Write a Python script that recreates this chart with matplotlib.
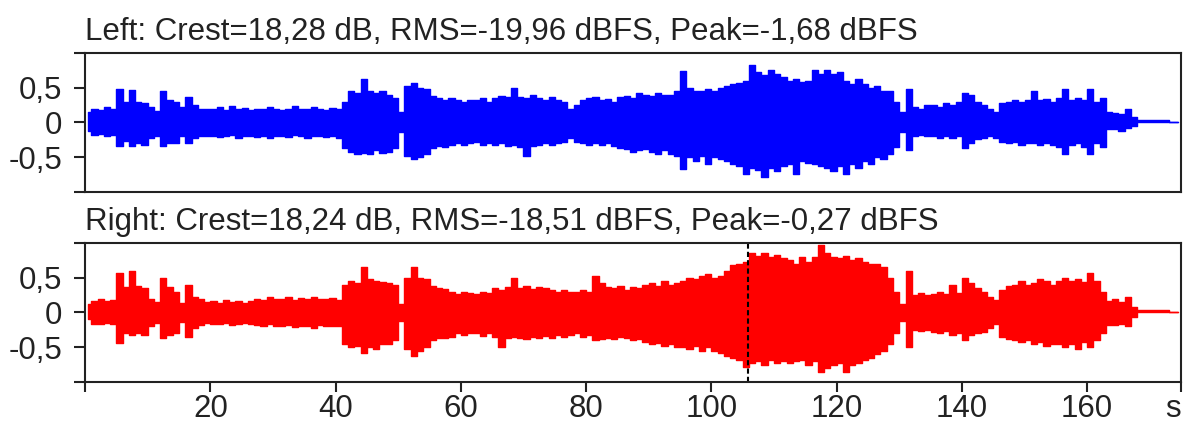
import numpy as np
import matplotlib
matplotlib.use("Agg")
import matplotlib.pyplot as plt

# ----------------------------------------------------------------------
# envelope of each channel at 1 s steps (0..174 s)
LEFT_TOP = [
    0.15, 0.2, 0.18, 0.22, 0.19, 0.48, 0.3, 0.47, 0.3, 0.28,
    0.22, 0.17, 0.45, 0.33, 0.3, 0.22, 0.36, 0.25, 0.2, 0.2,
    0.2, 0.22, 0.18, 0.24, 0.2, 0.21, 0.18, 0.2, 0.19, 0.22,
    0.2, 0.18, 0.2, 0.24, 0.19, 0.2, 0.22, 0.2, 0.18, 0.21,
    0.2, 0.3, 0.45, 0.42, 0.62, 0.45, 0.42, 0.45, 0.4, 0.35,
    0.15, 0.52, 0.57, 0.5, 0.48, 0.38, 0.35, 0.33, 0.35, 0.32,
    0.3, 0.33, 0.32, 0.35, 0.3, 0.35, 0.38, 0.36, 0.5, 0.36,
    0.35, 0.4, 0.35, 0.33, 0.36, 0.32, 0.3, 0.2, 0.25, 0.33,
    0.35, 0.36, 0.33, 0.34, 0.3, 0.36, 0.38, 0.35, 0.42, 0.4,
    0.38, 0.42, 0.4, 0.4, 0.45, 0.74, 0.5, 0.45, 0.46, 0.48,
    0.45, 0.5, 0.52, 0.55, 0.57, 0.6, 0.83, 0.72, 0.68, 0.75,
    0.7, 0.65, 0.6, 0.62, 0.58, 0.6, 0.76, 0.7, 0.76, 0.7,
    0.72, 0.6, 0.55, 0.62, 0.55, 0.5, 0.52, 0.45, 0.45, 0.3,
    0.15, 0.48, 0.22, 0.2, 0.25, 0.25, 0.22, 0.28, 0.25, 0.3,
    0.43, 0.4, 0.3, 0.25, 0.2, 0.15, 0.28, 0.3, 0.32, 0.3,
    0.33, 0.45, 0.32, 0.34, 0.3, 0.35, 0.48, 0.33, 0.35, 0.32,
    0.48, 0.3, 0.35, 0.15, 0.13, 0.12, 0.2, 0.08, 0.03, 0.03,
    0.03, 0.03, 0.03, 0.0, 0.0,
]
LEFT_BOT = [
    -0.12, -0.18, -0.17, -0.19, -0.18, -0.34, -0.27, -0.34, -0.3, -0.32,
    -0.22, -0.2, -0.34, -0.3, -0.3, -0.2, -0.3, -0.22, -0.2, -0.2,
    -0.19, -0.21, -0.2, -0.18, -0.22, -0.2, -0.19, -0.21, -0.2, -0.22,
    -0.19, -0.2, -0.21, -0.18, -0.2, -0.22, -0.2, -0.19, -0.21, -0.2,
    -0.22, -0.36, -0.42, -0.46, -0.44, -0.46, -0.4, -0.44, -0.42, -0.36,
    -0.14, -0.48, -0.52, -0.5, -0.45, -0.36, -0.34, -0.35, -0.32, -0.3,
    -0.32, -0.3, -0.28, -0.33, -0.3, -0.32, -0.3, -0.34, -0.32, -0.35,
    -0.48, -0.34, -0.32, -0.3, -0.33, -0.3, -0.28, -0.22, -0.28, -0.3,
    -0.33, -0.3, -0.32, -0.3, -0.34, -0.36, -0.38, -0.42, -0.4, -0.38,
    -0.42, -0.45, -0.4, -0.45, -0.48, -0.67, -0.5, -0.55, -0.48, -0.6,
    -0.5, -0.52, -0.55, -0.6, -0.62, -0.74, -0.65, -0.68, -0.79, -0.65,
    -0.7, -0.62, -0.6, -0.74, -0.55, -0.58, -0.6, -0.62, -0.65, -0.7,
    -0.62, -0.74, -0.6, -0.65, -0.55, -0.6, -0.5, -0.52, -0.45, -0.35,
    -0.13, -0.39, -0.2, -0.18, -0.2, -0.2, -0.22, -0.2, -0.22, -0.2,
    -0.37, -0.3, -0.24, -0.22, -0.2, -0.22, -0.28, -0.3, -0.28, -0.32,
    -0.3, -0.3, -0.32, -0.3, -0.33, -0.35, -0.46, -0.32, -0.3, -0.35,
    -0.46, -0.3, -0.35, -0.1, -0.1, -0.12, -0.08, -0.05, 0.01, 0.01,
    0.01, 0.01, 0.01, 0.0, 0.0,
]
RIGHT_TOP = [
    0.12, 0.17, 0.2, 0.16, 0.18, 0.57, 0.36, 0.59, 0.38, 0.35,
    0.2, 0.15, 0.5, 0.36, 0.3, 0.14, 0.4, 0.22, 0.2, 0.15,
    0.16, 0.14, 0.18, 0.15, 0.16, 0.14, 0.17, 0.2, 0.18, 0.22,
    0.19, 0.2, 0.23, 0.18, 0.21, 0.2, 0.22, 0.19, 0.2, 0.21,
    0.18, 0.4, 0.45, 0.42, 0.66, 0.48, 0.45, 0.44, 0.42, 0.4,
    0.12, 0.5, 0.66, 0.5, 0.48, 0.38, 0.35, 0.34, 0.3, 0.27,
    0.3, 0.28, 0.27, 0.3, 0.28, 0.35, 0.33, 0.36, 0.5, 0.35,
    0.38, 0.34, 0.36, 0.35, 0.33, 0.3, 0.32, 0.3, 0.3, 0.32,
    0.3, 0.52, 0.42, 0.36, 0.35, 0.38, 0.33, 0.36, 0.35, 0.4,
    0.42, 0.38, 0.45, 0.4, 0.42, 0.45, 0.5, 0.48, 0.52, 0.55,
    0.5, 0.53, 0.6, 0.68, 0.7, 0.72, 0.85, 0.82, 0.85, 0.8,
    0.83, 0.78, 0.75, 0.7, 0.8, 0.72, 0.8, 0.97, 0.85, 0.8,
    0.78, 0.82, 0.75, 0.78, 0.72, 0.7, 0.7, 0.65, 0.5, 0.3,
    0.12, 0.59, 0.25, 0.28, 0.25, 0.27, 0.3, 0.27, 0.4, 0.28,
    0.5, 0.42, 0.35, 0.3, 0.22, 0.18, 0.32, 0.38, 0.4, 0.45,
    0.4, 0.42, 0.48, 0.45, 0.4, 0.45, 0.5, 0.45, 0.48, 0.44,
    0.57, 0.45, 0.3, 0.17, 0.2, 0.15, 0.22, 0.08, 0.03, 0.03,
    0.03, 0.03, 0.03, 0.0, 0.0,
]
RIGHT_BOT = [
    -0.1, -0.16, -0.17, -0.15, -0.16, -0.44, -0.3, -0.32, -0.3, -0.33,
    -0.2, -0.15, -0.37, -0.33, -0.3, -0.14, -0.35, -0.22, -0.18, -0.15,
    -0.16, -0.17, -0.15, -0.18, -0.16, -0.15, -0.17, -0.18, -0.2, -0.17,
    -0.19, -0.2, -0.18, -0.21, -0.19, -0.2, -0.22, -0.18, -0.2, -0.19,
    -0.2, -0.45, -0.5, -0.48, -0.58, -0.5, -0.52, -0.46, -0.45, -0.4,
    -0.12, -0.52, -0.62, -0.55, -0.5, -0.4, -0.37, -0.36, -0.35, -0.3,
    -0.32, -0.3, -0.3, -0.34, -0.3, -0.35, -0.5, -0.36, -0.35, -0.36,
    -0.38, -0.35, -0.37, -0.34, -0.36, -0.33, -0.35, -0.32, -0.3, -0.35,
    -0.33, -0.4, -0.38, -0.36, -0.38, -0.35, -0.37, -0.4, -0.38, -0.42,
    -0.45, -0.44, -0.48, -0.45, -0.5, -0.5, -0.52, -0.48, -0.55, -0.5,
    -0.55, -0.58, -0.62, -0.65, -0.68, -0.78, -0.72, -0.7, -0.75, -0.68,
    -0.72, -0.7, -0.72, -0.7, -0.68, -0.75, -0.7, -0.85, -0.8, -0.75,
    -0.72, -0.85, -0.75, -0.72, -0.68, -0.65, -0.6, -0.55, -0.45, -0.3,
    -0.12, -0.49, -0.25, -0.27, -0.25, -0.28, -0.3, -0.27, -0.33, -0.3,
    -0.4, -0.33, -0.3, -0.28, -0.22, -0.16, -0.35, -0.38, -0.4, -0.42,
    -0.4, -0.45, -0.42, -0.48, -0.45, -0.45, -0.5, -0.45, -0.53, -0.42,
    -0.5, -0.4, -0.3, -0.18, -0.18, -0.16, -0.2, -0.06, 0.01, 0.01,
    0.01, 0.01, 0.01, 0.0, 0.0,
]

TITLES = ["Left: Crest=18,28 dB, RMS=-19,96 dBFS, Peak=-1,68 dBFS",
          "Right: Crest=18,24 dB, RMS=-18,51 dBFS, Peak=-0,27 dBFS"]
XTICKS = [0, 20, 40, 60, 80, 100, 120, 140, 160, 175]
XTICKLABELS = ["", "20", "40", "60", "80", "100", "120", "140", "160", "s"]
YTICKS = [-1, -0.5, 0, 0.5, 1]
YTICKLABELS = ["", "-0,5", "0", "0,5", ""]
CURSOR_T = 105.9      # dashed marker in the right channel
T_END = 175

plt.rcParams["font.family"] = ["Liberation Sans", "DejaVu Sans"]
FS = 22.5
INK = "#222222"

t = np.arange(len(LEFT_TOP)) + 0.5
for arr in (LEFT_BOT, RIGHT_TOP, RIGHT_BOT):
    assert len(arr) == len(t)

fig = plt.figure(figsize=(11.83, 4.26), dpi=100)
ax_l = fig.add_axes([0.0719, 0.5493, 0.9265, 0.3263])
ax_r = fig.add_axes([0.0719, 0.1033, 0.9265, 0.3263])

chans = [(ax_l, LEFT_TOP, LEFT_BOT, "#0000ff"),
         (ax_r, RIGHT_TOP, RIGHT_BOT, "#ff0000")]

for i, (ax, top, bot, col) in enumerate(chans):
    ax.fill_between(t, bot, top, step="mid", facecolor=col, edgecolor=col, lw=1.0)
    ax.set_xlim(0, T_END)
    ax.set_ylim(-1, 1)
    ax.set_yticks(YTICKS)
    ax.set_yticklabels(YTICKLABELS)
    ax.set_title(TITLES[i], loc="left", fontsize=FS, color=INK, pad=9.4)
    ax.tick_params(axis="y", direction="out", length=8, width=1.5, pad=8.5,
                   labelsize=FS, colors=INK)
    for s in ax.spines.values():
        s.set_linewidth(1.5)
        s.set_color(INK)

# only the lower panel carries the time axis
ax_l.set_xticks([])
ax_r.set_xticks(XTICKS)
ax_r.set_xticklabels(XTICKLABELS)
ax_r.tick_params(axis="x", direction="out", length=7.5, width=1.5, pad=1.5,
                 labelsize=FS, colors=INK)
# the unit label sits just left of the last tick
ax_r.get_xticklabels()[-1].set_horizontalalignment("right")

ax_r.axvline(CURSOR_T, color="black", lw=1.5, ls=(0, (2.5, 1.5)))

fig.savefig("out.png", dpi=100)
